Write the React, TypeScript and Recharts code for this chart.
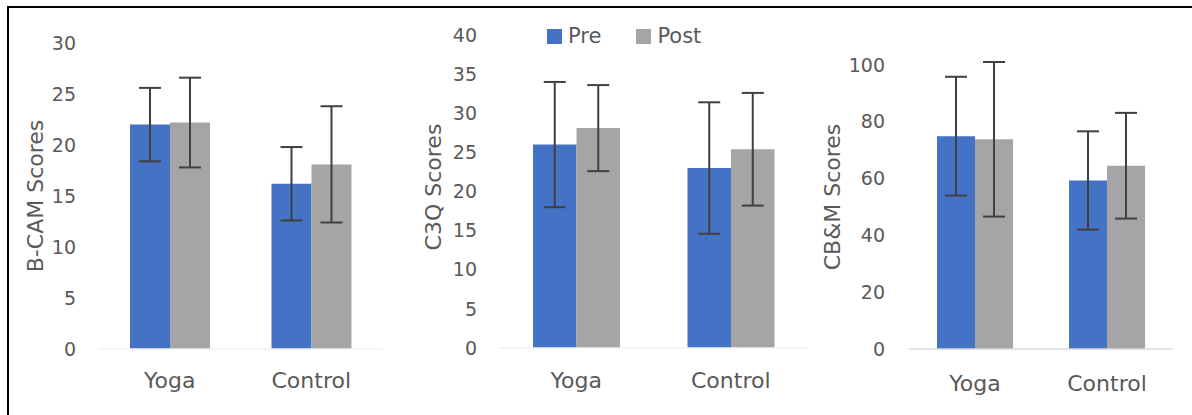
import React from 'react';
import { BarChart, Bar, XAxis, YAxis, ErrorBar } from 'recharts';

const categories = ['Yoga', 'Control'];
const seriesNames = ['Pre', 'Post'];

const bcamPre = [22.0, 16.2];
const bcamPreErr = [3.6, 3.6];
const bcamPost = [22.2, 18.1];
const bcamPostErr = [4.4, 5.7];
const bcamTicks = [0, 5, 10, 15, 20, 25, 30];

const c3qPre = [26.0, 23.0];
const c3qPreErr = [8.0, 8.4];
const c3qPost = [28.1, 25.4];
const c3qPostErr = [5.5, 7.2];
const c3qTicks = [0, 5, 10, 15, 20, 25, 30, 35, 40];

const cbmPre = [74.9, 59.3];
const cbmPreErr = [20.9, 17.3];
const cbmPost = [73.8, 64.5];
const cbmPostErr = [27.2, 18.6];
const cbmTicks = [0, 20, 40, 60, 80, 100];

const COLORS = ['#4472C4', '#A5A5A5'];
const TEXT = '#595959';
const FONT = '"DejaVu Sans", sans-serif';

function build(pre: number[], preErr: number[], post: number[], postErr: number[]) {
  return categories.map((c, i) => ({
    name: c,
    Pre: pre[i],
    preErr: preErr[i],
    Post: post[i],
    postErr: postErr[i],
  }));
}

type PanelProps = {
  left: number;
  width: number;
  data: any[];
  ticks: number[];
  yLabel: string;
  yLabelX: number;
  yLabelY: number;
  margin: { top: number; right: number; bottom: number; left: number };
  barSize: number;
  yTickMargin: number;
  xTickMargin: number;
  axisColor: string;
};

function LegendBox() {
  return (
    <div
      style={{
        position: 'absolute',
        left: 547,
        top: 25,
        display: 'flex',
        alignItems: 'center',
        fontFamily: FONT,
        fontSize: 21,
        color: TEXT,
      }}
    >
      {seriesNames.map((n, i) => (
        <div key={n} style={{ display: 'flex', alignItems: 'center', marginRight: i === 0 ? 35 : 0 }}>
          <div style={{ width: 15, height: 15, background: COLORS[i], marginRight: 6 }} />
          <span style={{ lineHeight: '22px' }}>{n}</span>
        </div>
      ))}
    </div>
  );
}

function Panel(p: PanelProps) {
  return (
    <div style={{ position: 'absolute', left: p.left, top: 0, width: p.width, height: 415 }}>
      <BarChart width={p.width} height={415} data={p.data} margin={p.margin} barGap={0}>
        <XAxis
          dataKey="name"
          height={50}
          tickLine={false}
          tickSize={0}
          tickMargin={p.xTickMargin}
          axisLine={{ stroke: p.axisColor, strokeWidth: 1.5 }}
          tick={{ fill: TEXT, fontSize: 22, fontFamily: FONT }}
        />
        <YAxis
          width={60}
          domain={[p.ticks[0], p.ticks[p.ticks.length - 1]]}
          ticks={p.ticks}
          interval={0}
          axisLine={false}
          tickLine={false}
          tickSize={0}
          tickMargin={p.yTickMargin}
          tick={{ fill: TEXT, fontSize: 19, fontFamily: FONT }}
          label={{
            content: () => (
              <text
                x={p.yLabelX}
                y={p.yLabelY}
                transform={`rotate(-90 ${p.yLabelX} ${p.yLabelY})`}
                textAnchor="middle"
                dominantBaseline="central"
                fill={TEXT}
                fontSize={22}
                fontFamily={FONT}
              >
                {p.yLabel}
              </text>
            ),
          }}
        />
        <Bar dataKey={seriesNames[0]} fill={COLORS[0]} barSize={p.barSize} isAnimationActive={false}>
          <ErrorBar dataKey="preErr" width={11} strokeWidth={2} stroke="#404040" />
        </Bar>
        <Bar dataKey={seriesNames[1]} fill={COLORS[1]} barSize={p.barSize} isAnimationActive={false}>
          <ErrorBar dataKey="postErr" width={11} strokeWidth={2} stroke="#404040" />
        </Bar>
      </BarChart>
    </div>
  );
}

export default function App() {
  return (
    <div style={{ position: 'absolute', left: 0, top: 0, width: 1192, height: 415, background: '#fff', overflow: 'hidden' }}>
      <Panel
        left={0}
        width={400}
        data={build(bcamPre, bcamPreErr, bcamPost, bcamPostErr)}
        ticks={bcamTicks}
        yLabel="B-CAM Scores"
        yLabelX={35}
        yLabelY={196}
        margin={{ top: 43, right: 18, bottom: 16, left: 39 }}
        barSize={40}
        yTickMargin={23}
        xTickMargin={23}
        axisColor="#f2f2f2"
      />
      <Panel
        left={400}
        width={420}
        data={build(c3qPre, c3qPreErr, c3qPost, c3qPostErr)}
        ticks={c3qTicks}
        yLabel="C3Q Scores"
        yLabelX={33}
        yLabelY={187}
        margin={{ top: 35, right: 12, bottom: 17, left: 39 }}
        barSize={43.5}
        yTickMargin={22}
        xTickMargin={24}
        axisColor="#f2f2f2"
      />
      <Panel
        left={800}
        width={392}
        data={build(cbmPre, cbmPreErr, cbmPost, cbmPostErr)}
        ticks={cbmTicks}
        yLabel="CB&M Scores"
        yLabelX={32}
        yLabelY={197}
        margin={{ top: 62, right: 19, bottom: 16, left: 49 }}
        barSize={38}
        yTickMargin={24}
        xTickMargin={26}
        axisColor="#d9d9d9"
      />
      <LegendBox />
      <div style={{ position: 'absolute', left: 7, top: 6, width: 1185, height: 2, background: '#000' }} />
      <div style={{ position: 'absolute', left: 7, top: 6, width: 2, height: 409, background: '#000' }} />
    </div>
  );
}
